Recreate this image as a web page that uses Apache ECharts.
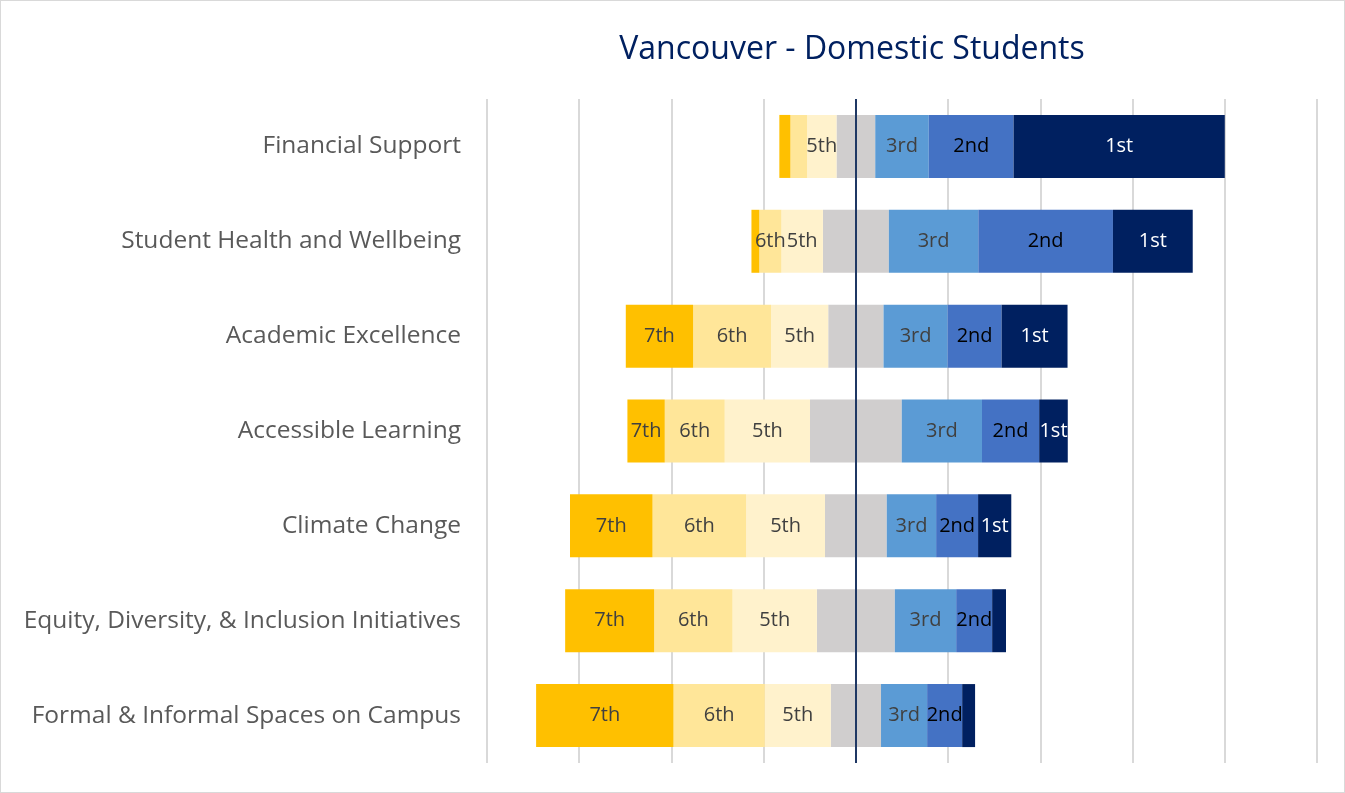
<!DOCTYPE html>
<html>
<head>
<meta charset="utf-8">
<script src="https://cdn.jsdelivr.net/npm/echarts@6/dist/echarts.min.js"></script>
<style>
	html, body { margin: 0; padding: 0; background: #fff; }
	#chart { width: 1343px; height: 791px; border: 1px solid #d9d9d9; }
</style>
</head>
<body>
<div id="chart"></div>
<script>
// top row first
var categories = ['Financial Support', 'Student Health and Wellbeing', 'Academic Excellence', 'Accessible Learning',
	'Climate Change', 'Equity, Diversity, & Inclusion Initiatives', 'Formal & Informal Spaces on Campus']
var rankNames = ['1st', '2nd', '3rd', '4th', '5th', '6th', '7th']
var rank1 = [45.8, 17.3, 14.3, 6.2, 7.2, 3.0, 2.8]
var rank2 = [18.4, 29.2, 11.7, 12.4, 9.1, 7.8, 7.6]
var rank3 = [11.6, 19.4, 13.9, 17.4, 10.7, 13.3, 10.0]
var rank4 = [8.4, 14.3, 12.0, 19.9, 13.4, 16.9, 10.9]
var rank5 = [6.4, 9.0, 12.4, 18.5, 17.1, 18.3, 14.3]
var rank6 = [3.6, 4.8, 16.9, 13.0, 20.3, 17.0, 19.8]
var rank7 = [2.4, 1.7, 14.6, 8.1, 17.9, 19.3, 29.8]
// segments too small to carry a label in the original
var hiddenLabels = { '7th': [0, 1], '6th': [0], '1st': [5, 6] }

var myEchart = echarts.init(document.getElementById('chart'))

function makeSeries(name, values, sign, color, labelColor, showLabel) {
	var hidden = hiddenLabels[name] || []
	return {
		name: name,
		type: 'bar',
		stack: 'rank',
		barWidth: 63,
		itemStyle: { color: color },
		label: {
			show: showLabel,
			position: 'inside',
			formatter: name,
			color: labelColor,
			fontFamily: 'Open Sans',
			fontSize: 20,
			padding: [4, 0, 0, 0]
		},
		data: values.map(function(v, i) {
			var item = { value: sign * v }
			if (hidden.indexOf(i) >= 0) item.label = { show: false }
			return item
		})
	}
}

var half4 = rank4.map(function(v) { return v / 2 })

var series = [
	makeSeries('4th', half4, -1, '#D0CECE', '#404040', false),
	makeSeries('5th', rank5, -1, '#FFF2CC', '#404040', true),
	makeSeries('6th', rank6, -1, '#FFE699', '#404040', true),
	makeSeries('7th', rank7, -1, '#FFC000', '#404040', true),
	makeSeries('4th', half4, 1, '#D0CECE', '#404040', false),
	makeSeries('3rd', rank3, 1, '#5B9BD5', '#404040', true),
	makeSeries('2nd', rank2, 1, '#4472C4', '#000000', true),
	makeSeries('1st', rank1, 1, '#002060', '#ffffff', true)
]
series[7].markLine = {
	silent: true,
	symbol: 'none',
	label: { show: false },
	lineStyle: { color: '#1F3864', width: 2, type: 'solid' },
	data: [{ xAxis: 0 }]
}

var option = {
	animation: false,
	title: {
		text: 'Vancouver - Domestic Students',
		left: 846,
		textAlign: 'center',
		top: 28,
		textStyle: {
			color: '#002060',
			fontFamily: 'Open Sans',
			fontWeight: 'normal',
			fontSize: 32
		}
	},
	grid: {
		left: 486,
		right: 27,
		top: 98,
		bottom: 29,
		containLabel: false
	},
	xAxis: {
		type: 'value',
		min: -80,
		max: 100,
		interval: 20,
		axisLine: { show: false },
		axisTick: { show: false },
		axisLabel: { show: false },
		splitLine: { lineStyle: { color: '#D9D9D9', width: 2 } }
	},
	yAxis: {
		type: 'category',
		inverse: true,
		data: categories,
		axisLine: { show: false },
		axisTick: { show: false },
		axisLabel: {
			margin: 26,
			color: '#595959',
			fontFamily: 'Open Sans',
			fontSize: 24.5,
			padding: [4, 0, 0, 0]
		}
	},
	series: series
}
myEchart.setOption(option)
</script>
</body>
</html>
